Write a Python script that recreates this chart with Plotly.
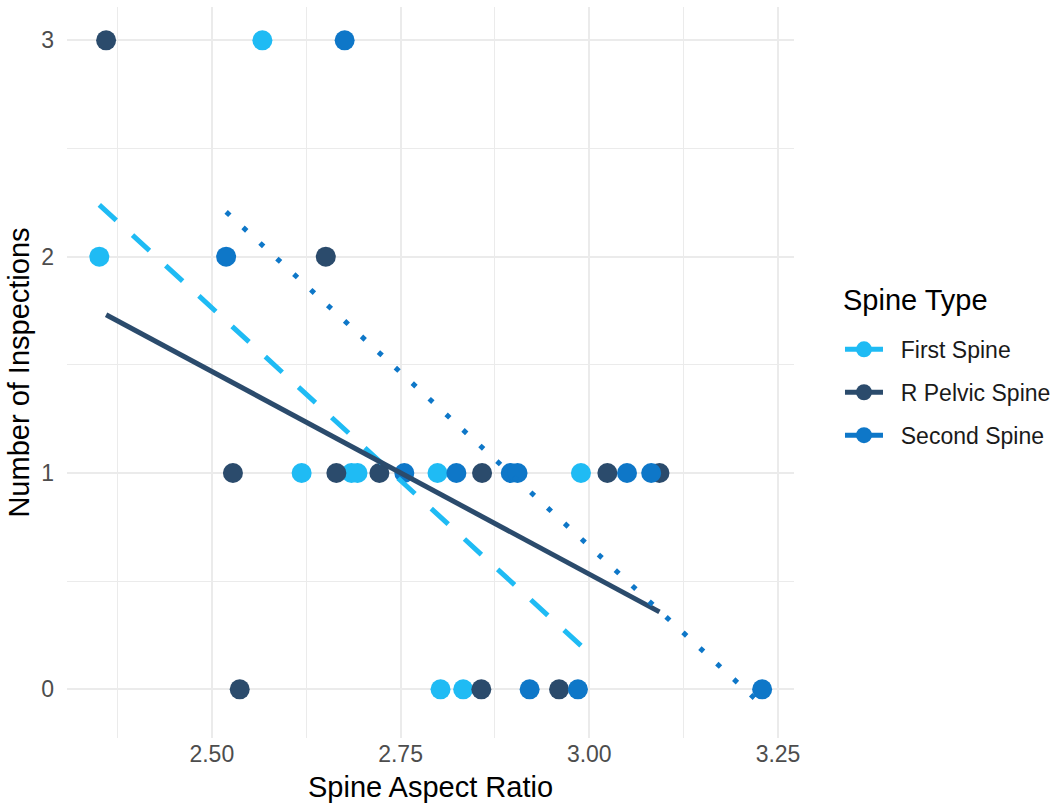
import numpy as np
import plotly.graph_objects as go

# ---- data ----
groups = ["First Spine", "R Pelvic Spine", "Second Spine"]

first_x = [2.567, 2.351, 2.619, 2.685, 2.693, 2.799, 2.989, 2.803, 2.833]
first_y = [3, 2, 1, 1, 1, 1, 1, 0, 0]

pelvic_x = [2.360, 2.651, 2.528, 2.665, 2.722, 2.858, 3.024, 3.093, 2.537, 2.857, 2.960]
pelvic_y = [3, 2, 1, 1, 1, 1, 1, 1, 0, 0, 0]

second_x = [2.676, 2.519, 2.755, 2.824, 2.896, 2.905, 3.050, 3.082, 2.921, 2.985, 3.229]
second_y = [3, 2, 1, 1, 1, 1, 1, 1, 0, 0, 0]

x_tickvals = [2.50, 2.75, 3.00, 3.25]
x_ticktext = ["2.50", "2.75", "3.00", "3.25"]
x_minor = [2.375, 2.625, 2.875, 3.125]
y_tickvals = [0, 1, 2, 3]
y_ticktext = ["0", "1", "2", "3"]
y_minor = [0.5, 1.5, 2.5]

legend_title = "Spine Type"

# ---- styles ----
colors = {"First Spine": "#1FBBF4", "R Pelvic Spine": "#2B4B6C", "Second Spine": "#0E77C8"}
dashes = {"First Spine": "23px,22px", "R Pelvic Spine": "solid", "Second Spine": "5px,18px"}
data = {
    "First Spine": (first_x, first_y),
    "R Pelvic Spine": (pelvic_x, pelvic_y),
    "Second Spine": (second_x, second_y),
}
FONT = "Liberation Sans, Arial, sans-serif"

fig = go.Figure()

# points
for g in groups:
    xs, ys = data[g]
    fig.add_trace(go.Scatter(
        x=xs, y=ys, mode="markers", showlegend=False,
        marker=dict(size=20, color=colors[g], line=dict(width=0)),
        hoverinfo="x+y", name=g,
    ))

# linear fits per group (over each group's x range)
for g in groups:
    xs, ys = data[g]
    xa = np.array(xs, dtype=float)
    ya = np.array(ys, dtype=float)
    slope, icpt = np.polyfit(xa, ya, 1)
    lx = np.array([xa.min(), xa.max()])
    ly = icpt + slope * lx
    fig.add_trace(go.Scatter(
        x=lx, y=ly, mode="lines", showlegend=False,
        line=dict(color=colors[g], width=5, dash=dashes[g]),
        hoverinfo="skip", name=g,
    ))

# legend entries
for g in groups:
    fig.add_trace(go.Scatter(
        x=[None], y=[None], mode="lines+markers", name="\u00a0\u00a0" + g, legendgroup=g,
        line=dict(color=colors[g], width=5),
        marker=dict(size=16, color=colors[g]),
    ))

fig.add_annotation(
    text=legend_title, xref="paper", yref="paper", x=1.0646, y=0.5992,
    xanchor="left", yanchor="middle", showarrow=False,
    font=dict(size=29, color="#000000", family=FONT),
)

fig.update_layout(
    width=1062, height=810,
    margin=dict(l=67, r=267, t=7, b=72),
    paper_bgcolor="white", plot_bgcolor="white",
    font=dict(family=FONT, color="#000000"),
    showlegend=True,
    legend=dict(
        x=1.0618, xanchor="left", y=0.561, yanchor="top",
        font=dict(size=23, color="#1A1A1A", family=FONT),
        itemwidth=38,
        tracegroupgap=10, bgcolor="rgba(0,0,0,0)", borderwidth=0,
    ),
    xaxis=dict(
        range=[2.3082, 3.2712], tickvals=x_tickvals, ticktext=x_ticktext,
        showgrid=True, gridcolor="#EBEBEB", gridwidth=2,
        minor=dict(tickvals=x_minor, showgrid=True, gridcolor="#EBEBEB", gridwidth=1),
        zeroline=False, showline=False, ticks="",
        tickfont=dict(size=23, color="#4D4D4D", family=FONT),
        title=dict(text="Spine Aspect Ratio", font=dict(size=29, color="#000000", family=FONT), standoff=10),
    ),
    yaxis=dict(
        range=[-0.225, 3.154], tickvals=y_tickvals, ticktext=y_ticktext,
        showgrid=True, gridcolor="#EBEBEB", gridwidth=2,
        minor=dict(tickvals=y_minor, showgrid=True, gridcolor="#EBEBEB", gridwidth=1),
        zeroline=False, showline=False, ticks="",
        tickfont=dict(size=23, color="#4D4D4D", family=FONT),
        ticklabelstandoff=12,
        title=dict(text="Number of Inspections", font=dict(size=29, color="#000000", family=FONT), standoff=3),
    ),
)

fig.write_html("out.html", config={"displayModeBar": False},
               post_script="document.body.style.margin='0';")
